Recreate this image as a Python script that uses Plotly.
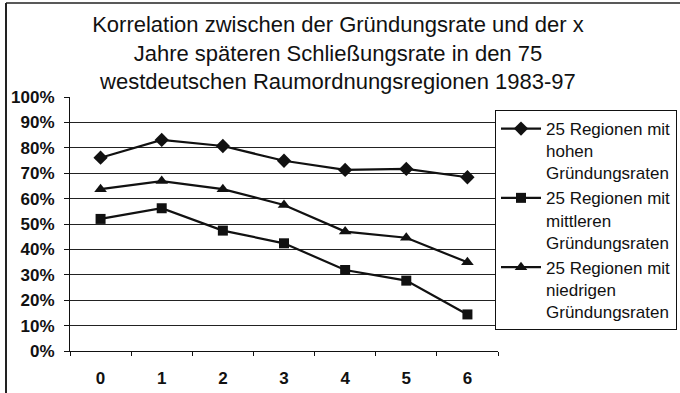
import plotly.graph_objects as go

# Years after founding (x) and correlation values in percent
jahre = ["0", "1", "2", "3", "4", "5", "6"]
hohe = [76.1, 83.1, 80.7, 74.9, 71.3, 71.7, 68.4]
mittlere = [52.0, 56.2, 47.4, 42.4, 31.9, 27.7, 14.4]
niedrige = [63.7, 66.9, 63.7, 57.5, 47.0, 44.6, 34.9]

namen = [
    "25 Regionen mit<br>hohen<br>Gründungsraten",
    "25 Regionen mit<br>mittleren<br>Gründungsraten",
    "25 Regionen mit<br>niedrigen<br>Gründungsraten",
]
titel = ("Korrelation zwischen der Gründungsrate und der x<br>"
         "Jahre späteren Schließungsrate in den 75<br>"
         "westdeutschen Raumordnungsregionen 1983-97")

FONT = "Liberation Sans, Arial, sans-serif"
INK = "#111111"

W, H = 680, 393
ML, MR, MT, MB = 70, 182, 97, 42
PW, PH = W - ML - MR, H - MT - MB


def px_x(p):
    return (p - ML) / PW


def px_y(p):
    return (H - MB - p) / PH


fig = go.Figure()
serien = [
    (hohe, namen[0], "diamond", 11),
    (mittlere, namen[1], "square", 10),
    (niedrige, namen[2], "triangle-up", 11),
]
for werte, name, symbol, groesse in serien:
    fig.add_trace(go.Scatter(
        x=jahre, y=werte, name=name, mode="lines+markers",
        line=dict(color=INK, width=2.2),
        marker=dict(symbol=symbol, size=groesse, color=INK),
    ))

fig.update_layout(
    width=W, height=H,
    margin=dict(l=ML, r=MR, t=MT, b=MB, autoexpand=False),
    paper_bgcolor="white", plot_bgcolor="white",
    font=dict(family=FONT, color=INK),
    title=dict(
        text=titel, x=0.497, xref="container", xanchor="center",
        y=1 - 32 / H, yref="container", yanchor="top",
        font=dict(family=FONT, size=22, color=INK),
    ),
    showlegend=True,
    legend=dict(
        x=px_x(495), y=px_y(110), xanchor="left", yanchor="top",
        bordercolor=INK, borderwidth=1, bgcolor="white",
        font=dict(family=FONT, size=17, color=INK),
        valign="top", tracegroupgap=0, itemwidth=40,
    ),
    xaxis=dict(
        type="category", range=[-0.5, 6.5],
        showline=True, linecolor=INK, linewidth=1,
        ticks="outside", ticklen=4, tickcolor=INK, tickson="boundaries",
        showgrid=False, zeroline=False,
        tickfont=dict(family=FONT, size=17, color=INK, weight="bold"),
        ticklabelstandoff=12,
    ),
    yaxis=dict(
        range=[0, 100], dtick=10, ticksuffix="%",
        showline=True, linecolor=INK, linewidth=1,
        ticks="outside", ticklen=5, tickcolor=INK,
        showgrid=True, gridcolor="#222222", gridwidth=1, zeroline=False,
        tickfont=dict(family=FONT, size=17, color=INK, weight="bold"),
        ticklabelstandoff=6,
    ),
    shapes=[
        # outer chart frame (left and top edges)
        dict(type="line", xref="paper", yref="paper",
             x0=px_x(6), x1=px_x(6), y0=px_y(3), y1=px_y(H + 5),
             line=dict(color="#222222", width=2)),
        dict(type="line", xref="paper", yref="paper",
             x0=px_x(6), x1=px_x(W + 5), y0=px_y(3), y1=px_y(3),
             line=dict(color="#222222", width=1.5)),
    ],
)

fig.write_html("out.html")
